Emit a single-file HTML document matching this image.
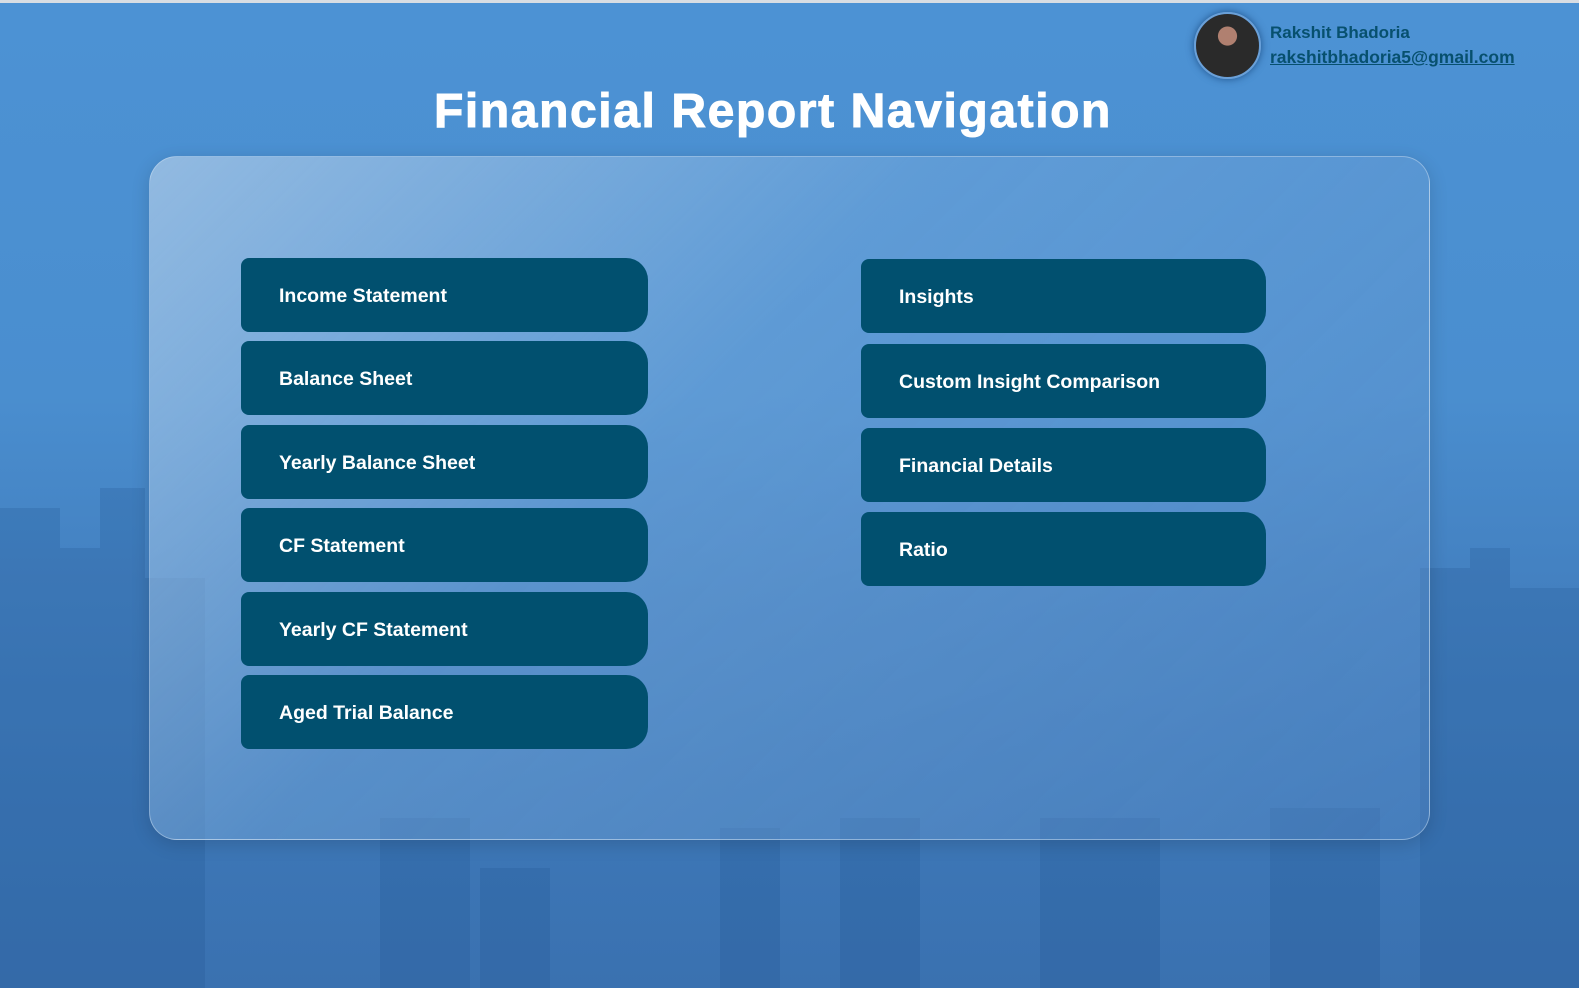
<!DOCTYPE html>
<html><head><meta charset="utf-8"><style>
*{margin:0;padding:0;box-sizing:border-box}
body{width:1579px;height:988px;overflow:hidden;font-family:"Liberation Sans",sans-serif;position:relative;
background:linear-gradient(180deg,#4c92d4 0%,#4a8ecf 40%,#4380c0 60%,#3d78b8 80%,#3a71b0 100%);}
.topline{position:absolute;left:0;top:0;width:1579px;height:3px;background:#d8dde3}
.city{position:absolute;left:0;bottom:0;width:1579px;height:500px;opacity:.2}
.panel{position:absolute;left:149px;top:156px;width:1281px;height:684px;border-radius:28px;
background:linear-gradient(135deg,rgba(170,200,230,.75) 0%,rgba(120,170,220,.45) 40%,rgba(90,140,200,.35) 100%);
border:1px solid rgba(200,220,240,.5);box-shadow:0 4px 18px rgba(0,0,0,.15)}
h1{position:absolute;left:0;width:1546px;top:84px;text-align:center;color:#fff;font-size:48px;font-weight:bold;letter-spacing:1.6px;-webkit-text-stroke:1px #fff}
.btn{position:absolute;width:407px;height:74px;background:#01506f;color:#fff;font-weight:bold;font-size:19.5px;
border-radius:8px 22px 22px 8px;padding-left:38px;line-height:76px;font-family:"Liberation Sans",sans-serif}
.avatar{position:absolute;left:1194px;top:12px;width:67px;height:67px;border-radius:50%;
background:radial-gradient(circle at 50% 35%,#b08070 0 18%,#2a2a2a 19% 100%);box-shadow:0 0 8px rgba(0,40,90,.6);border:2px solid #6aa0d8}
.name{position:absolute;left:1270px;top:23px;color:#07506e;font-size:17px;font-weight:bold}
.email{position:absolute;left:1270px;top:47px;color:#07506e;font-size:17.5px;font-weight:bold;text-decoration:underline}
</style></head><body>
<div class="topline"></div>
<svg class="city" viewBox="0 0 1579 500">
<g fill="#1d4f8a">
<rect x="0" y="20" width="60" height="480"/><rect x="60" y="60" width="40" height="440"/><rect x="100" y="0" width="45" height="500"/>
<rect x="145" y="90" width="60" height="410"/><rect x="380" y="330" width="90" height="170"/><rect x="480" y="380" width="70" height="120"/>
<rect x="720" y="340" width="60" height="160"/><rect x="840" y="330" width="80" height="170"/><rect x="1040" y="330" width="120" height="170"/>
<rect x="1270" y="320" width="110" height="180"/><rect x="1420" y="80" width="50" height="420"/><rect x="1470" y="60" width="40" height="440"/>
<rect x="1510" y="100" width="69" height="400"/>
</g></svg>
<div class="panel"></div>
<h1>Financial Report Navigation</h1>
<div class="avatar"></div>
<div class="name">Rakshit Bhadoria</div>
<div class="email">rakshitbhadoria5@gmail.com</div>
<div class="btn" style="left:241px;top:258px">Income Statement</div>
<div class="btn" style="left:241px;top:341px">Balance Sheet</div>
<div class="btn" style="left:241px;top:425px">Yearly Balance Sheet</div>
<div class="btn" style="left:241px;top:508px">CF Statement</div>
<div class="btn" style="left:241px;top:592px">Yearly CF Statement</div>
<div class="btn" style="left:241px;top:675px">Aged Trial Balance</div>
<div class="btn" style="left:861px;top:259px;width:405px">Insights</div>
<div class="btn" style="left:861px;top:344px;width:405px">Custom Insight Comparison</div>
<div class="btn" style="left:861px;top:428px;width:405px">Financial Details</div>
<div class="btn" style="left:861px;top:512px;width:405px">Ratio</div>
</body></html>
